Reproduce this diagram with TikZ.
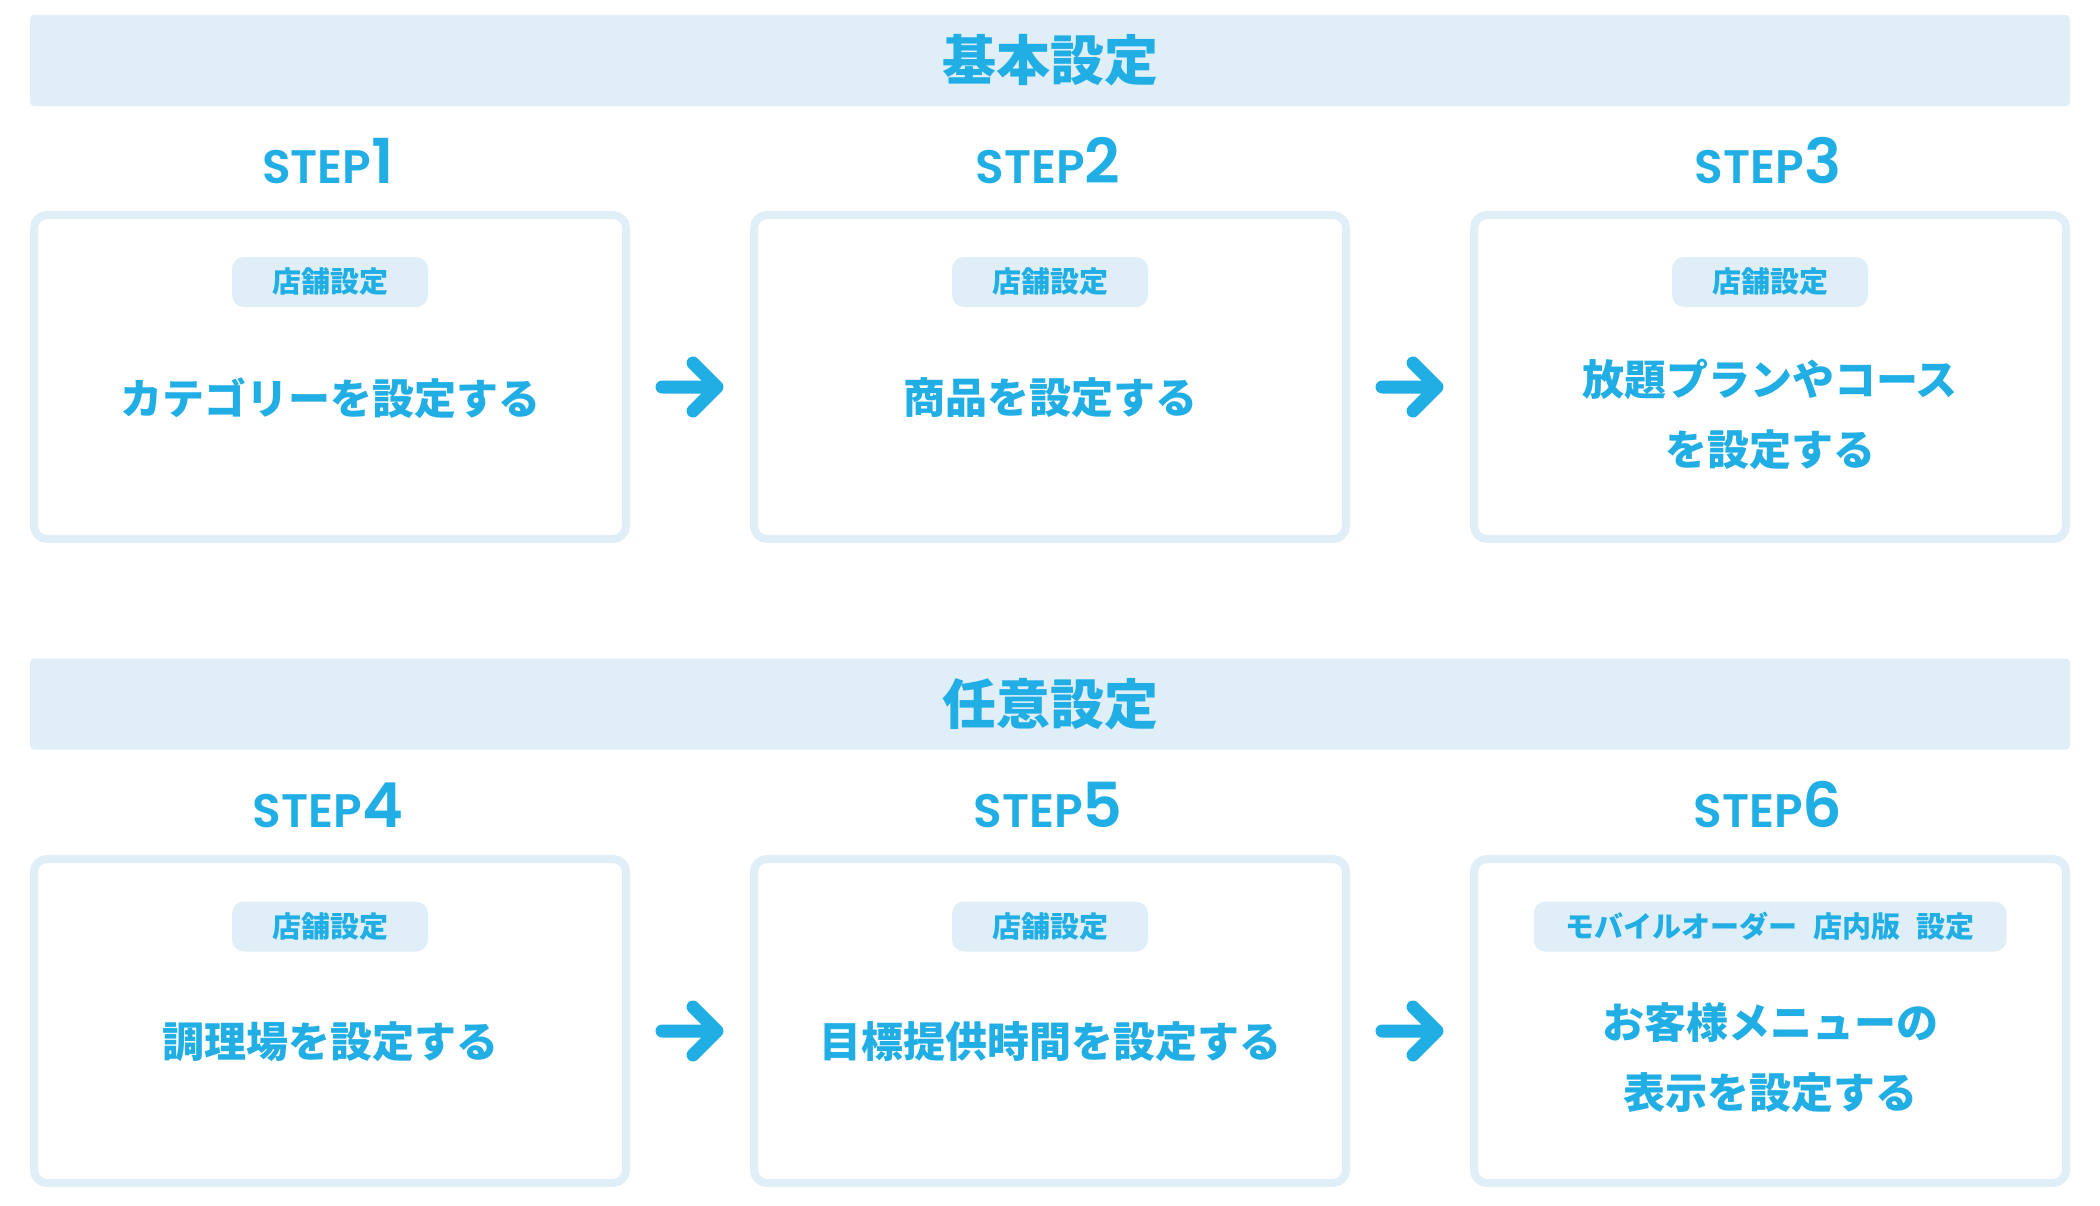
\documentclass[tikz,border=0pt]{standalone}
\usepackage{fontspec}
\usetikzlibrary{calc}
\newfontfamily\jp{Noto Sans CJK JP}
\newfontfamily\stepfont{Poppins SemiBold}
\definecolor{mainblue}{HTML}{20AEE5}
\definecolor{barfill}{HTML}{E0EEF8}
\begin{document}
\begin{tikzpicture}[x=1pt,y=-1pt,
  bar/.style={fill=barfill, rounded corners=4, minimum width=2040, minimum height=91, inner sep=0,
    text=mainblue, font=\jp\bfseries\fontsize{54}{54}\selectfont},
  stepbox/.style={draw=barfill, fill=white, line width=8, rounded corners=13,
    minimum width=592, minimum height=324, inner sep=0},
  tag/.style={fill=barfill, rounded corners=12, minimum width=196, minimum height=50, inner sep=0,
    text=mainblue, font=\jp\bfseries\fontsize{29}{29}\selectfont},
  maintext/.style={text=mainblue, align=center, inner sep=0,
    font=\jp\bfseries\fontsize{42}{70}\selectfont},
  steplabel/.style={text=mainblue, anchor=base, inner sep=0, font=\stepfont\fontsize{47}{47}\selectfont},
  flowline/.style={draw=mainblue, line width=13, line cap=round, line join=round}
]
\useasboundingbox (0,0) rectangle (2100,1205);

% section bars
\node[bar] (bar1) at (1050,60.5) {基本設定};
\node[bar] (bar2) at (1050,704) {任意設定};

% step labels
\node[steplabel] (s1) at (328,183) {STEP{\fontsize{62}{62}\selectfont 1}};
\node[steplabel] (s2) at (1048,183) {STEP{\fontsize{62}{62}\selectfont 2}};
\node[steplabel] (s3) at (1768,183) {STEP{\fontsize{62}{62}\selectfont 3}};
\node[steplabel] (s4) at (328,827) {STEP{\fontsize{62}{62}\selectfont 4}};
\node[steplabel] (s5) at (1048,827) {STEP{\fontsize{62}{62}\selectfont 5}};
\node[steplabel] (s6) at (1768,827) {STEP{\fontsize{62}{62}\selectfont 6}};

% boxes
\node[stepbox] (b1) at (330,377) {};
\node[stepbox] (b2) at (1050,377) {};
\node[stepbox] (b3) at (1770,377) {};
\node[stepbox] (b4) at (330,1021) {};
\node[stepbox] (b5) at (1050,1021) {};
\node[stepbox] (b6) at (1770,1021) {};

% tags
\node[tag] (t1) at (330,282) {店舗設定};
\node[tag] (t2) at (1050,282) {店舗設定};
\node[tag] (t3) at (1770,282) {店舗設定};
\node[tag] (t4) at (330,926.5) {店舗設定};
\node[tag] (t5) at (1050,926.5) {店舗設定};
\node[tag, minimum width=473] (t6) at (1770,926.5) {モバイルオーダー\hspace{16pt}店内版\hspace{16pt}設定};

% main texts
\node[maintext] (m1) at (330,398) {カテゴリーを設定する};
\node[maintext] (m2) at (1050,398) {商品を設定する};
\node[maintext] (m3) at (1770,414) {放題プランやコース\\を設定する};
\node[maintext] (m4) at (330,1042) {調理場を設定する};
\node[maintext] (m5) at (1050,1042) {目標提供時間を設定する};
\node[maintext] (m6) at (1770,1058) {お客様メニューの\\表示を設定する};

% arrows
\foreach \a/\b in {b1/b2, b2/b3, b4/b5, b5/b6}{
  \draw[flowline] ($(\a.east)+(32,10)$) -- ($(\b.west)+(-33,10)$)
    ($(\b.west)+(-57,-14)$) -- ($(\b.west)+(-33,10)$) -- ($(\b.west)+(-57,34)$);
}
\end{tikzpicture}
\end{document}
